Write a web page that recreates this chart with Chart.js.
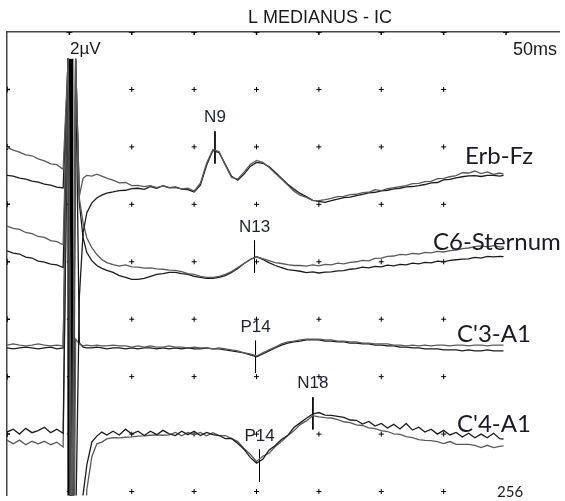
<!DOCTYPE html>
<html>
<head>
<meta charset="utf-8">
<script src="https://cdn.jsdelivr.net/npm/chart.js@4.4.0/dist/chart.umd.min.js"></script>
<style>
html, body { margin: 0; padding: 0; background: #fff; }
canvas { display: block; }
</style>
</head>
<body>
<canvas id="ep" width="565" height="501"></canvas>
<script>
// sweep time in ms, stimulus at 0
const timesMs = [
    -5, -4.5, -4, -3.5, -3, -2.5, -2, -1.5, -1, -0.5,
    -0.1, 0.2, 0.5, 0.8, 1.1, 1.4, 1.8, 2.2, 2.6, 3,
    3.5, 4, 4.5, 5, 5.5, 6, 6.5, 7, 7.5, 8,
    8.5, 9, 9.5, 10, 10.5, 11, 11.5, 12, 12.5, 13,
    13.5, 14, 14.5, 15, 15.5, 16, 16.5, 17, 17.5, 18,
    18.5, 19, 19.5, 20, 20.5, 21, 21.5, 22, 22.5, 23,
    23.5, 24, 24.5, 25, 25.5, 26, 26.5, 27, 27.5, 28,
    28.5, 29, 29.5, 30, 30.5, 31, 31.5, 32, 32.5, 33,
    33.5, 34, 34.5, 34.8
];

// channels, baseline in grid divisions, 2 uV per division
const channelNames = ["Erb-Fz", "C6-Sternum", "C'3-A1", "C'4-A1"];
const channelBase = [5.3, 3.9, 2.5, 1.0];
const uvPerDiv = 2;

// two superimposed runs per channel (uV)
const erbA = [
    1.38, 1.29, 1.22, 1.12, 1.09, 0.98, 0.91, 0.81, 0.78, 0.62,
    4.47, -12, 4.47, -0.31, 0.31, 0.41, 0.38, 0.45, 0.38, 0.31,
    0.24, 0.15, 0.16, 0.05, 0.06, 0.02, 0.05, -0.02, 0.04, -0.03,
    -0.02, -0.06, -0.04, -0.14, 0.14, 0.83, 1.31, 1.24, 0.76, 0.34,
    0.28, 0.52, 0.79, 0.93, 0.86, 0.69, 0.48, 0.28, 0.07, -0.14,
    -0.28, -0.36, -0.46, -0.47, -0.44, -0.39, -0.33, -0.32, -0.26, -0.25,
    -0.19, -0.18, -0.09, -0.12, -0.05, -0.02, 0.02, 0.05, 0.12, 0.13,
    0.19, 0.20, 0.29, 0.30, 0.36, 0.40, 0.50, 0.49, 0.56, 0.47,
    0.53, 0.44, 0.49, 0.45
];
const erbB = [
    0.41, 0.38, 0.31, 0.28, 0.21, 0.17, 0.10, 0.07, 0, -0.03,
    4.47, -12, -12, -3.82, -1.58, -0.89, -0.55, -0.38, -0.28, -0.21,
    -0.17, -0.12, -0.11, -0.05, -0.04, -0.08, 0.02, -0.04, 0.05, -0.02,
    0.01, -0.07, -0.09, -0.17, 0.07, 0.76, 1.27, 1.20, 0.79, 0.38,
    0.24, 0.45, 0.72, 0.86, 0.83, 0.72, 0.52, 0.31, 0.10, -0.07,
    -0.22, -0.33, -0.46, -0.50, -0.53, -0.47, -0.42, -0.37, -0.35, -0.30,
    -0.25, -0.20, -0.18, -0.13, -0.11, -0.06, -0.04, 0.01, 0.02, 0.05,
    0.09, 0.15, 0.16, 0.25, 0.27, 0.32, 0.36, 0.39, 0.40, 0.37,
    0.41, 0.41, 0.38, 0.41
];
const c6A = [
    1.44, 1.36, 1.33, 1.22, 1.18, 1.08, 1.05, 0.94, 0.90, 0.79,
    7.26, -15, 7.26, 2.41, 1.55, 1.03, 0.69, 0.45, 0.28, 0.17,
    0.10, 0.05, 0.09, 0.02, 0.01, -0.02, -0.01, -0.05, -0.06, -0.09,
    -0.10, -0.14, -0.21, -0.24, -0.31, -0.34, -0.34, -0.31, -0.24, -0.14,
    0, 0.14, 0.28, 0.38, 0.31, 0.24, 0.17, 0.14, 0.10, 0.07,
    0.07, 0.05, 0.09, 0.06, 0.11, 0.09, 0.15, 0.13, 0.18, 0.20,
    0.25, 0.23, 0.32, 0.33, 0.39, 0.40, 0.46, 0.44, 0.49, 0.47,
    0.53, 0.51, 0.56, 0.54, 0.59, 0.61, 0.66, 0.68, 0.73, 0.75,
    0.72, 0.76, 0.72, 0.72
];
const c6B = [
    0.58, 0.50, 0.47, 0.36, 0.33, 0.22, 0.19, 0.12, 0.09, 0,
    7.26, -15, 7.26, 2.24, 1.03, 0.52, 0.24, 0.07, -0.03, -0.10,
    -0.17, -0.28, -0.34, -0.41, -0.41, -0.38, -0.31, -0.24, -0.21, -0.17,
    -0.17, -0.21, -0.24, -0.31, -0.34, -0.38, -0.38, -0.34, -0.28, -0.17,
    -0.03, 0.14, 0.28, 0.38, 0.28, 0.17, 0.07, 0, -0.07, -0.10,
    -0.13, -0.18, -0.15, -0.19, -0.16, -0.15, -0.12, -0.11, -0.06, -0.04,
    0.01, -0.01, 0.04, 0.02, 0.08, 0.06, 0.11, 0.09, 0.15, 0.13,
    0.18, 0.16, 0.22, 0.20, 0.25, 0.27, 0.29, 0.30, 0.35, 0.33,
    0.39, 0.37, 0.39, 0.38
];
const c3A = [
    0.10, 0.14, 0.10, 0.07, 0.10, 0.14, 0.10, 0.07, 0.10, 0.07,
    10.08, -20, 0.31, 0.14, 0.07, 0.10, 0.07, 0.10, 0.07, 0.07,
    0.10, 0.07, 0.07, 0.03, 0.07, 0.03, 0.07, 0.03, 0.03, 0.07,
    0.03, 0.03, 0, 0.03, 0, 0, -0.03, 0, -0.03, -0.07,
    -0.10, -0.17, -0.21, -0.28, -0.17, -0.07, 0.03, 0.14, 0.21, 0.24,
    0.28, 0.31, 0.31, 0.31, 0.28, 0.28, 0.24, 0.24, 0.21, 0.21,
    0.17, 0.17, 0.14, 0.14, 0.14, 0.10, 0.10, 0.07, 0.10, 0.07,
    0.10, 0.07, 0.10, 0.10, 0.07, 0.10, 0.10, 0.07, 0.10, 0.10,
    0.07, 0.10, 0.10, 0.10
];
const c3B = [
    0, -0.03, 0, 0.03, 0, -0.03, 0, 0.03, -0.03, 0,
    10.08, -20, 10.08, 0.17, 0.03, 0, 0, 0.03, 0, -0.03,
    0, 0, -0.03, 0, -0.03, 0, 0, -0.03, 0, -0.03,
    0, -0.03, 0, -0.03, -0.03, 0, -0.03, -0.03, -0.07, -0.10,
    -0.14, -0.17, -0.24, -0.31, -0.21, -0.10, 0, 0.10, 0.17, 0.21,
    0.24, 0.28, 0.28, 0.28, 0.24, 0.24, 0.21, 0.21, 0.17, 0.17,
    0.14, 0.14, 0.10, 0.10, 0.07, 0.07, 0.03, 0.03, 0, 0,
    -0.03, -0.03, -0.03, -0.07, -0.07, -0.07, -0.10, -0.07, -0.10, -0.10,
    -0.07, -0.10, -0.10, -0.10
];
const c4A = [
    0.07, 0.17, 0.00, 0.20, 0.05, 0.12, 0.24, 0.05, 0.17, 0.03,
    13.07, -5, -5, -5, -2.10, -1.07, -0.28, -0.07, 0.07, -0.03,
    0.10, -0.03, 0.17, 0.00, 0.10, -0.05, 0.10, -0.02, 0.13, 0.01,
    -0.05, 0.10, -0.02, 0.10, -0.05, 0.06, -0.02, -0.05, -0.16, -0.15,
    -0.33, -0.53, -0.81, -1.01, -0.88, -0.56, -0.40, -0.19, -0.05, 0.23,
    0.39, 0.55, 0.70, 0.75, 0.66, 0.65, 0.62, 0.58, 0.49, 0.48,
    0.35, 0.44, 0.28, 0.37, 0.21, 0.34, 0.18, 0.37, 0.14, 0.24,
    0.07, 0.17, 0.00, 0.13, -0.03, 0.06, -0.10, 0.03, -0.13, 0.00,
    -0.13, 0.03, -0.16, -0.17
];
const c4B = [
    -0.21, -0.34, -0.21, -0.37, -0.25, -0.34, -0.25, -0.37, -0.28, -0.45,
    13.07, -5, -5, -5, -5, -1.93, -0.79, -0.34, -0.28, -0.17,
    -0.12, -0.13, -0.11, -0.10, -0.07, -0.06, -0.04, -0.03, -0.04, -0.03,
    0.06, -0.06, 0.06, -0.03, 0.06, -0.06, 0.05, -0.05, -0.05, -0.16,
    -0.26, -0.50, -0.70, -0.95, -0.77, -0.67, -0.43, -0.26, -0.05, 0.12,
    0.33, 0.46, 0.64, 0.60, 0.57, 0.56, 0.50, 0.43, 0.40, 0.32,
    0.30, 0.22, 0.19, 0.12, 0.09, 0.01, -0.01, -0.09, -0.12, -0.19,
    -0.22, -0.23, -0.26, -0.33, -0.26, -0.36, -0.36, -0.36, -0.39, -0.47,
    -0.39, -0.47, -0.43, -0.41
];

// stimulus artifact (saturates the amplifier)
const stimTimes = [0.08, 0.08];
const stimLevels = [7.535, -0.5];

// marked peaks
const peakNames = ["N9", "N13", "P14", "N18", "P14"];
const peakChannel = [0, 1, 2, 3, 3];
const peakTimes = [11.67, 14.84, 14.92, 19.52, 15.24];
const peakAmps = [1.38, 0.38, -0.31, 0.72, -1.10];

// grid: 5 ms and 1 division
const gridTimes = [0, 5, 10, 15, 20, 25, 30];
const gridRows = [0, 1, 2, 3, 4, 5, 6, 7];
const topTicks = [0, 5, 10, 15, 20, 25, 30, 35];

const traces = [
    { ch: 0, vals: erbA, color: "#5a5a5a" },
    { ch: 0, vals: erbB, color: "#1c1c1c" },
    { ch: 1, vals: c6A, color: "#5a5a5a" },
    { ch: 1, vals: c6B, color: "#1c1c1c" },
    { ch: 2, vals: c3A, color: "#5a5a5a" },
    { ch: 2, vals: c3B, color: "#1c1c1c" },
    { ch: 3, vals: c4A, color: "#1c1c1c" },
    { ch: 3, vals: c4B, color: "#5a5a5a" }
];

function peakLevel(i) {
    return channelBase[peakChannel[i]] + peakAmps[i] / uvPerDiv;
}

let datasets = [];
for (let k = 0; k < traces.length; k++) {
    const tr = traces[k];
    datasets.push({
        type: "line",
        data: timesMs.map((t, i) => ({ x: t, y: channelBase[tr.ch] + tr.vals[i] / uvPerDiv })),
        borderColor: tr.color,
        borderWidth: 1.3,
        pointRadius: 0,
        tension: 0,
        fill: false
    });
}
datasets.push({
    type: "line",
    data: stimTimes.map((t, i) => ({ x: t, y: stimLevels[i] })),
    borderColor: "#000",
    borderWidth: 6,
    borderCapStyle: "butt",
    pointRadius: 0
});
for (let i = 0; i < peakNames.length; i++) {
    datasets.push({
        type: "line",
        data: [
            { x: peakTimes[i], y: peakLevel(i) + 0.28 },
            { x: peakTimes[i], y: peakLevel(i) - 0.28 }
        ],
        borderColor: "#000",
        borderWidth: 1,
        pointRadius: 0
    });
}
let crosses = [];
gridRows.forEach(r => gridTimes.forEach(t => crosses.push({ x: t, y: r })));
datasets.push({
    type: "scatter",
    data: crosses,
    pointStyle: "cross",
    pointRadius: 2.5,
    borderColor: "#000",
    borderWidth: 1
});
let edgeTicks = topTicks.map(t => ({ x: t, y: 8 }));
gridRows.slice(1).forEach(r => edgeTicks.push({ x: -5, y: r }));
datasets.push({
    type: "scatter",
    data: edgeTicks,
    pointStyle: "cross",
    pointRadius: 3,
    borderColor: "#000",
    borderWidth: 1.5,
    clip: 0
});

const textPlugin = {
    id: "epText",
    afterDatasetsDraw(chart) {
        const ctx = chart.ctx;
        const x = chart.scales.x;
        const y = chart.scales.y;
        ctx.save();
        ctx.fillStyle = "#1a1a1a";
        ctx.textBaseline = "alphabetic";
        ctx.font = "18px 'Liberation Sans', Arial, sans-serif";
        ctx.textAlign = "left";
        ctx.fillText("L MEDIANUS - IC", 248, 23);
        ctx.font = "17px 'Liberation Sans', Arial, sans-serif";
        ctx.fillText("2µV", 70, 54);
        ctx.textAlign = "right";
        ctx.font = "18px 'Liberation Sans', Arial, sans-serif";
        ctx.fillText("50ms", 557, 55);

        ctx.textAlign = "center";
        ctx.font = "17px 'Liberation Sans', Arial, sans-serif";
        ctx.fillStyle = "#1b2230";
        for (let i = 0; i < peakNames.length; i++) {
            ctx.fillText(peakNames[i], x.getPixelForValue(peakTimes[i]), y.getPixelForValue(peakLevel(i)) - 25);
        }

        ctx.textAlign = "left";
        ctx.font = "24px Lato, 'Open Sans', sans-serif";
        ctx.fillStyle = "#1a1a28";
        const spots = [[465, 164], [433, 250], [457, 342], [457, 432]];
        channelNames.forEach((n, i) => ctx.fillText(n, spots[i][0], spots[i][1]));
        ctx.font = "15px Lato, sans-serif";
        ctx.fillText("256", 497, 497);
        ctx.restore();
    }
};

new Chart(document.getElementById("ep"), {
    data: { datasets: datasets },
    options: {
        responsive: false,
        animation: false,
        devicePixelRatio: 1,
        layout: { padding: { left: 7, top: 32, right: 0, bottom: 0 } },
        plugins: { legend: { display: false }, tooltip: { enabled: false } },
        scales: {
            x: {
                type: "linear",
                position: "top",
                min: -5,
                max: 39.286,
                ticks: { display: false },
                grid: { drawOnChartArea: false, drawTicks: false },
                border: { color: "#444", width: 1.5 }
            },
            y: {
                type: "linear",
                position: "left",
                min: -0.069,
                max: 8,
                ticks: { display: false },
                grid: { drawOnChartArea: false, drawTicks: false },
                border: { color: "#444", width: 1.5 }
            }
        }
    },
    plugins: [textPlugin]
});
</script>
</body>
</html>
